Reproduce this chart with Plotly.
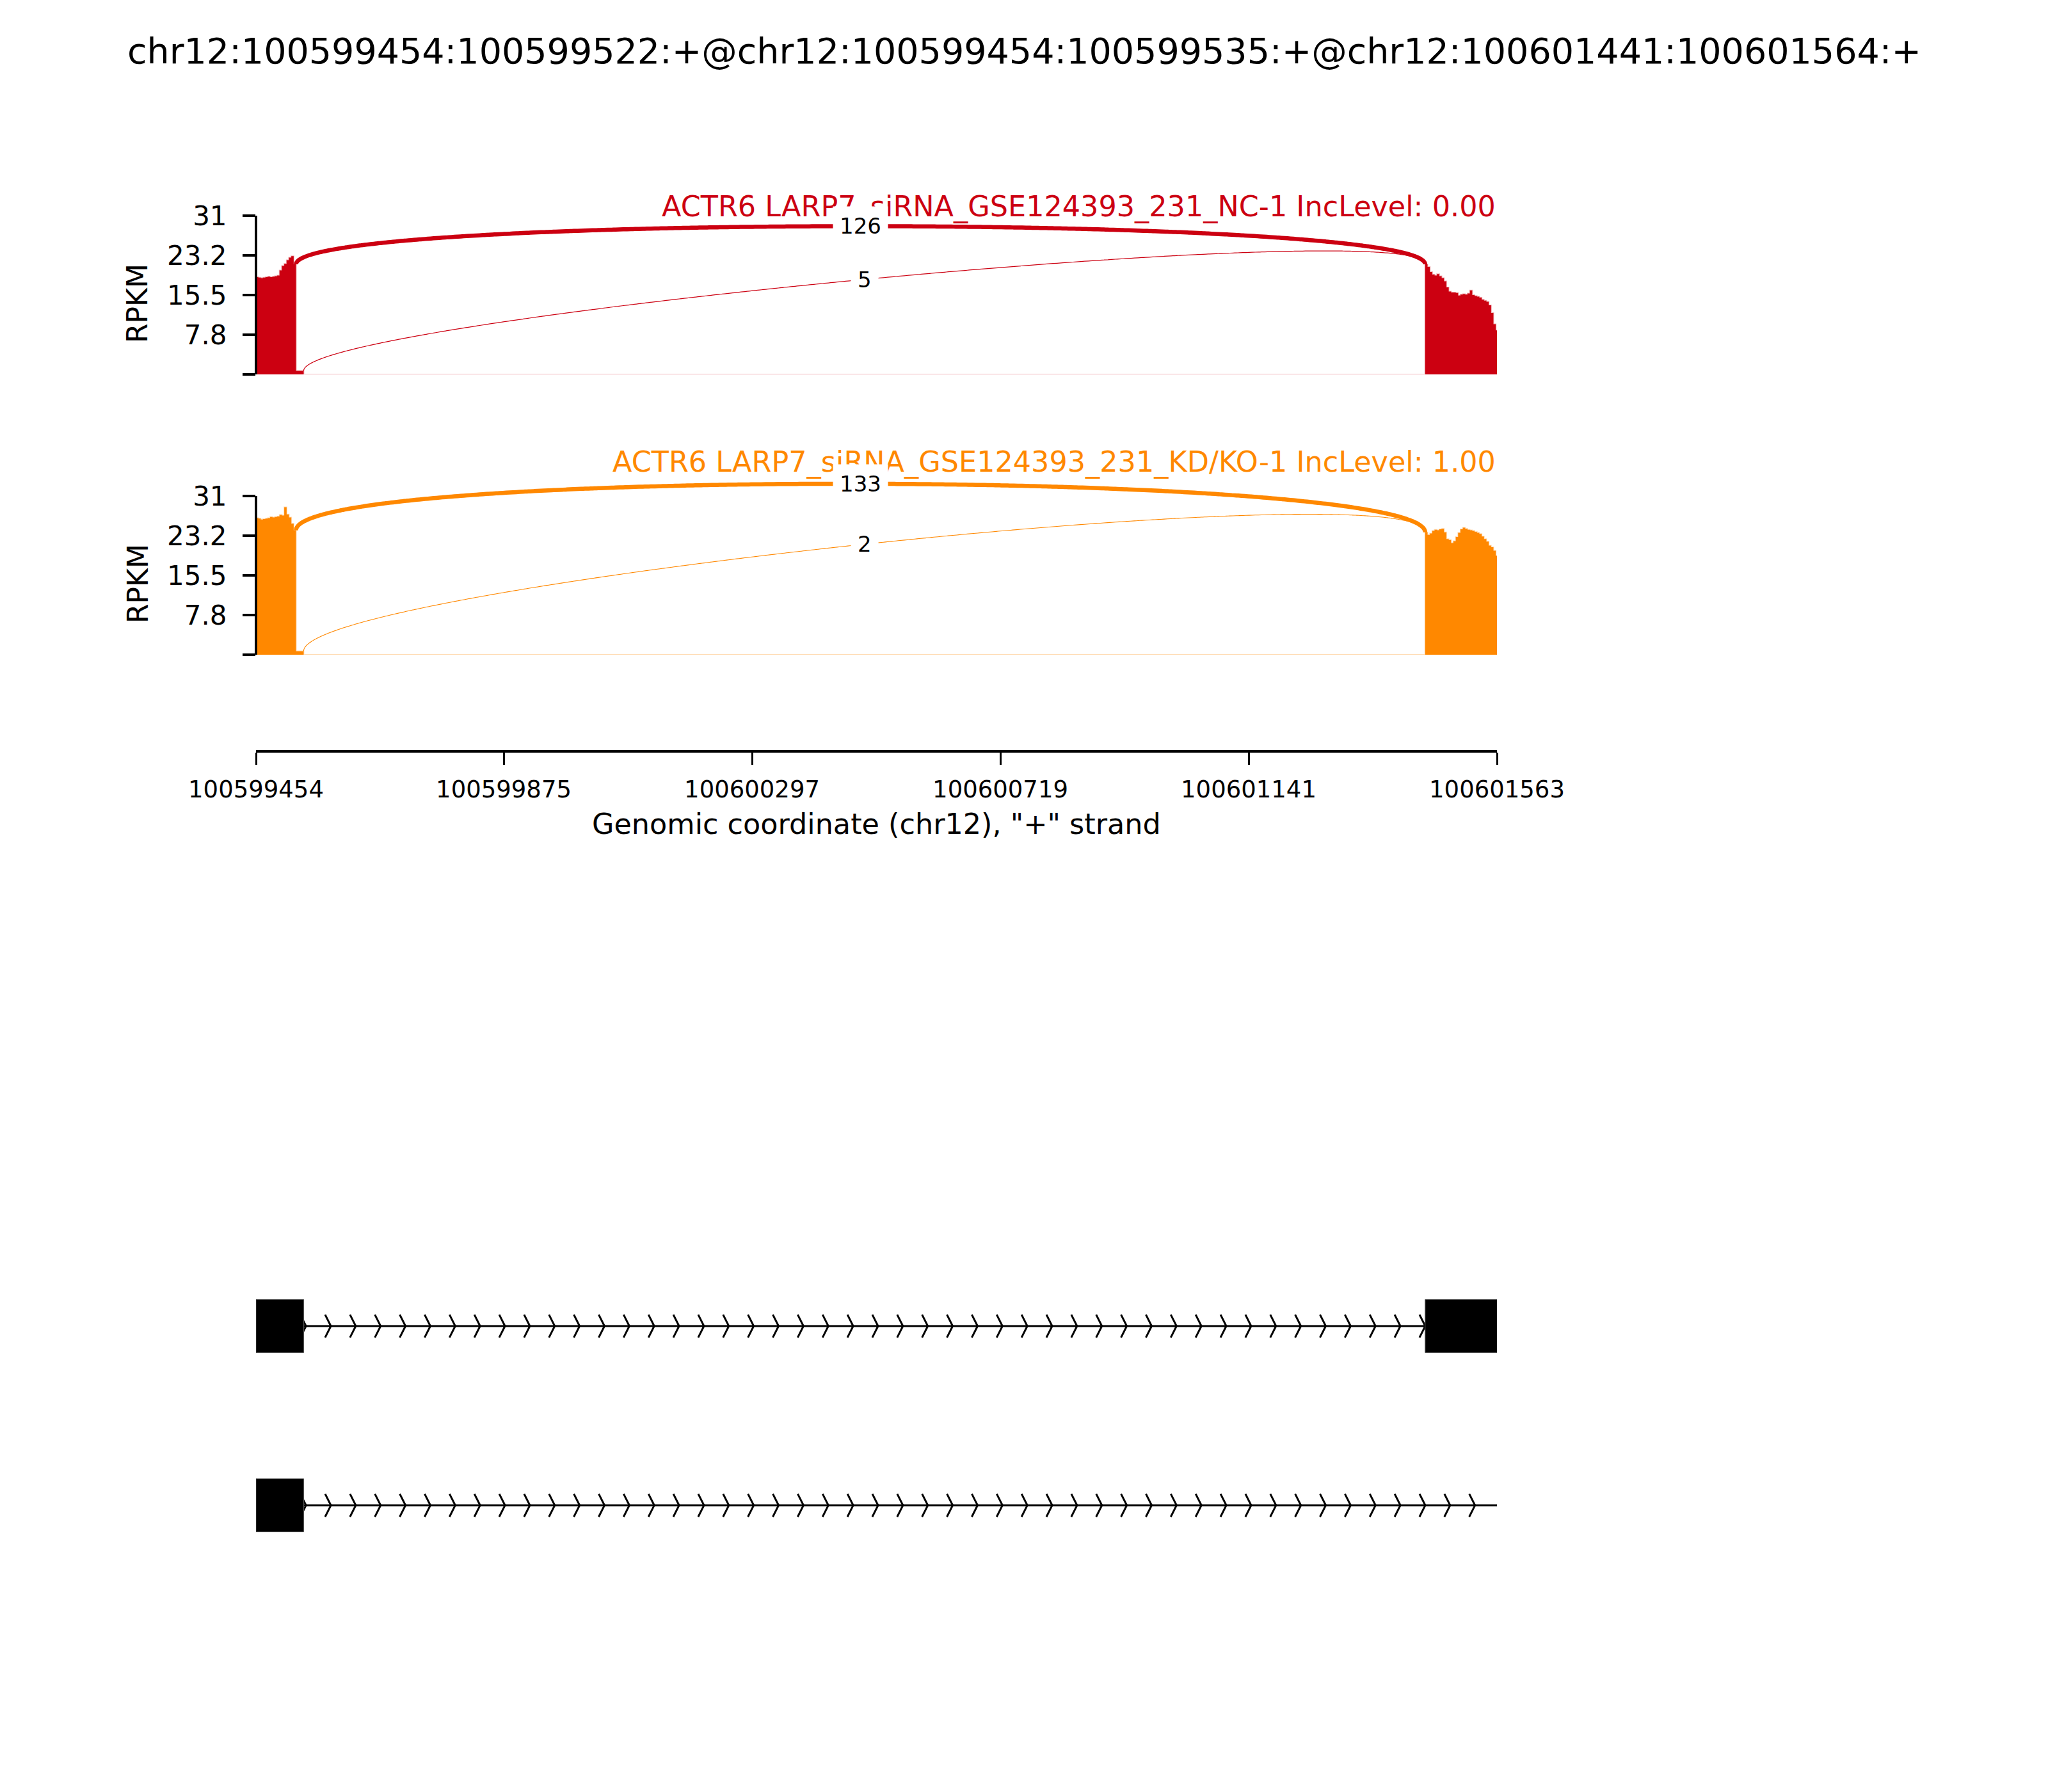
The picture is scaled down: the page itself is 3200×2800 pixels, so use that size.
import numpy as np
import plotly.graph_objects as go

# タイトルと領域
title_txt = "chr12:100599454:100599522:+@chr12:100599454:100599535:+@chr12:100601441:100601564:+"
region_start = 100599454
region_end = 100601563

sample_names = [
    "ACTR6 LARP7_siRNA_GSE124393_231_NC-1 IncLevel: 0.00",
    "ACTR6 LARP7_siRNA_GSE124393_231_KD/KO-1 IncLevel: 1.00",
]
sample_colors = ["#CC0011", "#FF8800"]

# カバレッジ (RPKM, 4bpごと)
bin_bp = 4
exon1_start = 100599454
exon1_end = 100599522
alt_end = 100599535
exon2_start = 100601441

nc_exon1 = [19.0, 18.9, 18.8, 18.9, 19.0, 19.1, 19.0, 19.1, 19.2, 19.3,
            20.3, 21.2, 21.6, 22.3, 22.8, 23.1, 21.5]
nc_alt = 0.7
nc_exon2 = [21.5, 21.0, 20.0, 19.5, 19.3, 19.6, 19.2, 18.8, 18.2, 17.0,
            16.2, 16.0, 16.0, 15.9, 15.4, 15.6, 15.7, 15.6, 15.8, 16.4,
            15.5, 15.3, 15.2, 15.0, 14.6, 14.4, 14.2, 13.5, 12.0, 9.8, 8.6]

kd_exon1 = [26.7, 26.6, 26.4, 26.5, 26.6, 26.7, 26.9, 26.8, 26.9, 27.0,
            27.3, 27.2, 28.8, 27.4, 26.8, 25.6, 24.3]
kd_alt = 0.7
kd_exon2 = [23.9, 23.4, 23.7, 24.2, 24.4, 24.3, 24.5, 24.6, 23.9, 22.6,
            22.4, 21.8, 22.2, 23.0, 23.8, 24.5, 24.8, 24.6, 24.4, 24.3,
            24.2, 24.0, 23.8, 23.6, 23.1, 22.6, 22.1, 21.3, 21.0, 20.3, 19.3]

# ジャンクション
junc_start = [100599522, 100599535]
junc_end = [100601441, 100601441]
nc_counts = [126, 5]
kd_counts = [133, 2]

# 軸
y_max = 31
y_tickvals = [0, 7.75, 15.5, 23.25, 31]
y_ticktext = ["", "7.8", "15.5", "23.2", "31"]
x_tickvals = [100599454, 100599875, 100600297, 100600719, 100601141, 100601563]
x_label = 'Genomic coordinate (chr12), "+" strand'

# 転写産物モデル
tx_exons = [
    [(100599454, 100599535), (100601441, 100601564)],
    [(100599454, 100599535)],
]
tx_end = [100601564, 100601564]

FONT = "DejaVu Sans"
W, H = 3200, 2800
OFF = 8  # ページ余白の補正


def px_x(x):
    return (x - OFF) / W


def px_y(y):
    return 1 - (y - OFF) / H


x_dom = [px_x(400), px_x(2339)]
y_top = 34  # 弧が31を超えるので少し余裕を持たせる
panel_px = [(585, 8.0), (1023, 8.0)]  # (0の位置, px/RPKM)


def cov_steps(e1, alt, e2):
    xs = list(exon1_start + bin_bp * np.arange(len(e1)))
    ys = list(e1)
    xs += [exon1_end, alt_end]
    ys += [alt, 0]
    xs += list(exon2_start + bin_bp * np.arange(len(e2)))
    ys += list(e2)
    xs.append(region_end + 1)
    ys.append(e2[-1])
    return np.array(xs, dtype=float), np.array(ys, dtype=float)


def cov_at(xs, ys, p):
    idx = np.searchsorted(xs, p, side="right") - 1
    return ys[max(idx, 0)]


def bezier(x0, y0, x1, y1, h):
    t = np.linspace(0, 1, 400)
    a, b, c, d = (1 - t) ** 3, 3 * (1 - t) ** 2 * t, 3 * (1 - t) * t ** 2, t ** 3
    bx = a * x0 + b * x0 + c * x1 + d * x1
    by = a * y0 + b * (y0 + h) + c * (y1 + h) + d * y1
    return bx, by


fig = go.Figure()
annotations = []
shapes = []
layout_axes = {}

cov_data = [(nc_exon1, nc_alt, nc_exon2, nc_counts), (kd_exon1, kd_alt, kd_exon2, kd_counts)]
label_y = [323, 722]
rpkm_y = [474, 912]

for i, (e1, alt, e2, counts) in enumerate(cov_data):
    n = i + 1
    xa = "x" if n == 1 else f"x{n}"
    ya = "y" if n == 1 else f"y{n}"
    color = sample_colors[i]
    zero_px, ppu = panel_px[i]
    d0 = px_y(zero_px)
    d1 = px_y(zero_px - y_top * ppu)

    xs, ys = cov_steps(e1, alt, e2)
    r, g, b = int(color[1:3], 16), int(color[3:5], 16), int(color[5:7], 16)
    fig.add_trace(go.Scatter(
        x=xs, y=ys, mode="lines", line=dict(shape="hv", width=2, color=f"rgba({r},{g},{b},0.3)"),
        fill="tozeroy", fillcolor=color, xaxis=xa, yaxis=ya, hoverinfo="skip",
    ))

    # ジャンクションの弧
    h = 0.43 * max(max(e1), max(e2))
    cmax = max(counts)
    for js, je, cnt in zip(junc_start, junc_end, counts):
        y0 = cov_at(xs, ys, js - 1)
        y1 = cov_at(xs, ys, je)
        bx, by = bezier(js, y0, je, y1, h)
        fig.add_trace(go.Scatter(
            x=bx, y=by, mode="lines",
            line=dict(color=color, width=1 + 5.5 * cnt / cmax, shape="spline", simplify=False),
            xaxis=xa, yaxis=ya, hoverinfo="skip",
        ))

    # サンプル名
    annotations.append(dict(
        text=sample_names[i], x=x_dom[1], y=px_y(label_y[i]), xref="paper", yref="paper",
        xanchor="right", yanchor="middle", showarrow=False,
        font=dict(family=FONT, size=44.5, color=color),
    ))
    for js, je, cnt in zip(junc_start, junc_end, counts):
        y0 = cov_at(xs, ys, js - 1)
        y1 = cov_at(xs, ys, je)
        annotations.append(dict(
            text=str(cnt), x=(js + je) / 2, y=(y0 + y1) / 2 + 0.75 * h, xref=xa, yref=ya,
            xanchor="center", yanchor="middle", showarrow=False, bgcolor="white", borderpad=10,
            font=dict(family=FONT, size=34, color="black"),
        ))

    # RPKM ラベル
    annotations.append(dict(
        text="RPKM", x=px_x(215), y=px_y(rpkm_y[i]), xref="paper", yref="paper", textangle=-90,
        xanchor="center", yanchor="middle", showarrow=False,
        font=dict(family=FONT, size=44, color="black"),
    ))

    # 左スパイン (0〜31のみ)
    shapes.append(dict(
        type="line", xref="paper", yref="paper", x0=x_dom[0], x1=x_dom[0],
        y0=d0, y1=d0 + (d1 - d0) * y_max / y_top, line=dict(color="black", width=4),
    ))

    layout_axes[f"xaxis{'' if n == 1 else n}"] = dict(
        domain=x_dom, range=[region_start, region_end], visible=False, anchor=ya,
        automargin=False,
    )
    layout_axes[f"yaxis{'' if n == 1 else n}"] = dict(
        domain=[d0, d1], range=[0, y_top], anchor=xa, tickvals=y_tickvals, ticktext=y_ticktext,
        ticks="outside", ticklen=20, tickwidth=4, tickcolor="black", showline=False,
        showgrid=False, zeroline=False, tickfont=dict(family=FONT, size=42, color="black"),
        ticklabelstandoff=16, automargin=False,
    )

# 座標軸 (ルーラー)
fig.add_trace(go.Scatter(
    x=x_tickvals, y=[0] * len(x_tickvals), mode="markers", marker=dict(opacity=0),
    xaxis="x3", yaxis="y3", hoverinfo="skip",
))
layout_axes["xaxis3"] = dict(
    domain=x_dom, range=[region_start, region_end], anchor="y3", showline=True, linewidth=4,
    linecolor="black", ticks="outside", ticklen=19, tickwidth=3, tickcolor="black",
    tickvals=x_tickvals, ticktext=[str(v) for v in x_tickvals], showgrid=False, zeroline=False,
    tickfont=dict(family=FONT, size=37, color="black"), ticklabelstandoff=7, automargin=False,
)
layout_axes["yaxis3"] = dict(domain=[px_y(1172), px_y(1100)], range=[0, 1], visible=False,
                             anchor="x3", automargin=False)
annotations.append(dict(
    text=x_label, x=sum(x_dom) / 2, y=px_y(1288), xref="paper", yref="paper", showarrow=False,
    xanchor="center", yanchor="middle", font=dict(family=FONT, size=44.5, color="black"),
))

# 転写産物モデル
row_y = [1, 0]
box_h = 0.148
chev_w = 9.8
chev_h = 0.064
chev_step = 42.27
for k, exons in enumerate(tx_exons):
    yc = row_y[k]
    intr_s = exons[0][1]
    intr_e = exons[1][0] if len(exons) > 1 else tx_end[k]
    fig.add_trace(go.Scatter(
        x=[intr_s, tx_end[k]], y=[yc, yc], mode="lines", line=dict(color="black", width=3),
        xaxis="x4", yaxis="y4", hoverinfo="skip",
    ))
    cx, cy = [], []
    for p in np.arange(intr_s + 4, intr_e + 2, chev_step):
        cx += [p - chev_w, p, p - chev_w, None]
        cy += [yc + chev_h, yc, yc - chev_h, None]
    fig.add_trace(go.Scatter(
        x=cx, y=cy, mode="lines", line=dict(color="black", width=3),
        xaxis="x4", yaxis="y4", hoverinfo="skip",
    ))
    bx, by = [], []
    for s, e in exons:
        bx += [s, e, e, s, s, None]
        by += [yc - box_h, yc - box_h, yc + box_h, yc + box_h, yc - box_h, None]
    fig.add_trace(go.Scatter(
        x=bx, y=by, mode="lines", fill="toself", fillcolor="black",
        line=dict(color="#555555", width=1), xaxis="x4", yaxis="y4", hoverinfo="skip",
    ))

layout_axes["xaxis4"] = dict(domain=x_dom, range=[region_start, region_end], visible=False,
                             anchor="y4", automargin=False)
layout_axes["yaxis4"] = dict(domain=[px_y(2500), px_y(1900)], range=[-0.528, 1.614],
                             visible=False, anchor="x4", automargin=False)

annotations.insert(0, dict(
    text=title_txt, x=px_x(1600), y=px_y(80), xref="paper", yref="paper", showarrow=False,
    xanchor="center", yanchor="middle", font=dict(family=FONT, size=55.5, color="black"),
))

fig.update_layout(
    width=W, height=H, margin=dict(l=0, r=0, t=0, b=0),
    plot_bgcolor="white", paper_bgcolor="white", showlegend=False,
    annotations=annotations, shapes=shapes, **layout_axes,
)

fig.write_html("out.html")
